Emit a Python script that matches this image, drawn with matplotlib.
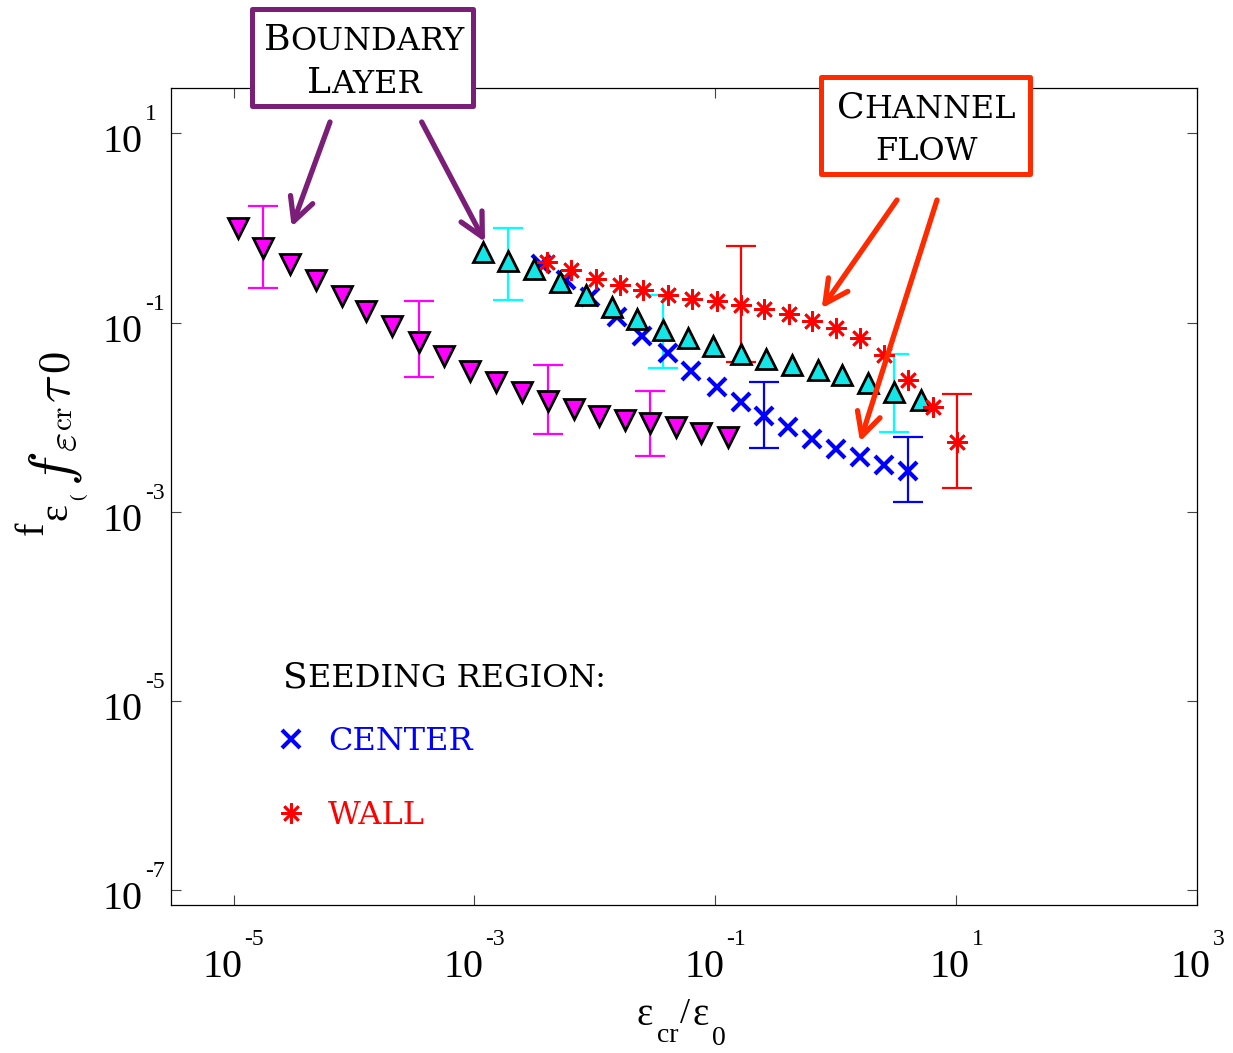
import matplotlib
matplotlib.use("Agg")
import matplotlib.pyplot as plt
from matplotlib.patches import Rectangle, FancyArrowPatch, ArrowStyle
from matplotlib.text import Annotation
from matplotlib import transforms as mtrans

# ---------------- data ----------------
# Boundary layer (magenta, downward triangles)
bl_down_x = [1.08e-5, 1.77e-5, 2.92e-5, 4.80e-5, 7.89e-5, 1.27e-4, 2.09e-4, 3.44e-4,
             5.65e-4, 9.12e-4, 1.50e-3, 2.47e-3, 4.06e-3, 6.67e-3, 1.08e-2, 1.77e-2,
             2.90e-2, 4.78e-2, 7.71e-2, 1.27e-1]
bl_down_y = [1.0, 0.619, 0.420, 0.284, 0.192, 0.133, 0.0925, 0.0627, 0.0445, 0.0308,
             0.0236, 0.0185, 0.0149, 0.0122, 0.0103, 0.00933, 0.00869, 0.00787,
             0.00681, 0.00617]
bl_down_err_idx = [1, 7, 12, 16]
bl_down_err_lo = [0.234, 0.0267, 0.00664, 0.00385]
bl_down_err_hi = [1.69, 0.167, 0.0352, 0.0188]

# Boundary layer (cyan, upward triangles)
bl_up_x = [1.17e-3, 1.92e-3, 3.16e-3, 5.11e-3, 8.39e-3, 1.38e-2, 2.26e-2, 3.72e-2,
           6.01e-2, 9.70e-2, 0.163, 0.267, 0.440, 0.710, 1.14, 1.88, 3.09, 5.18]
bl_up_y = [0.558, 0.444, 0.372, 0.269, 0.194, 0.146, 0.110, 0.0839, 0.0685, 0.0571,
           0.0467, 0.0414, 0.0357, 0.0311, 0.0280, 0.0229, 0.0184, 0.0150]
bl_up_err_idx = [1, 7, 16]
bl_up_err_lo = [0.175, 0.0330, 0.00702]
bl_up_err_hi = [1.00, 0.194, 0.0459]

# Channel flow, seeded at center (blue x)
center_x = [3.61e-3, 5.83e-3, 9.23e-3, 1.52e-2, 2.49e-2, 4.03e-2, 6.37e-2, 0.103,
            0.163, 0.257, 0.407, 0.644, 1.02, 1.61, 2.55, 4.04]
center_y = [0.420, 0.284, 0.187, 0.115, 0.0724, 0.0479, 0.0308, 0.0209, 0.0145,
            0.0103, 0.00787, 0.00587, 0.00460, 0.00378, 0.00312, 0.00269]
center_err_idx = [9, 15]
center_err_lo = [0.00469, 0.00126]
center_err_hi = [0.0234, 0.00612]

# Channel flow, seeded at wall (red asterisks)
wall_x = [3.98e-3, 6.30e-3, 1.02e-2, 1.61e-2, 2.54e-2, 4.10e-2, 6.49e-2, 0.103, 0.163,
          0.257, 0.415, 0.644, 1.02, 1.61, 2.55, 4.04, 6.52, 10.3]
wall_y = [0.438, 0.356, 0.291, 0.247, 0.219, 0.197, 0.179, 0.167, 0.155, 0.140, 0.124,
          0.105, 0.0875, 0.0685, 0.0456, 0.0248, 0.0127, 0.00551]
wall_err_idx = [8, 17]
wall_err_lo = [0.0382, 0.00177]
wall_err_hi = [0.640, 0.0176]

xtick_vals = [1e-5, 1e-3, 1e-1, 1e1, 1e3]
xtick_exp = ["-5", "-3", "-1", "1", "3"]
ytick_vals = [1e1, 1e-1, 1e-3, 1e-5, 1e-7]
ytick_exp = ["1", "-1", "-3", "-5", "-7"]
legend_labels = ["CENTER", "WALL"]

# ---------------- styling ----------------
MAGENTA = "#ff00ff"
CYAN = "#00ffff"
CYAN_FILL = "#12e6e6"
BLUE = "#0000ff"
RED = "#ff0000"
PURPLE = "#7a1e78"
ORANGE_RED = "#ff2a00"
SERIF = "Liberation Serif"
SC = "DejaVu Serif"

W, H = 1233, 1053
fig = plt.figure(figsize=(W / 100, H / 100), dpi=100)
ax = fig.add_axes([171 / W, 1 - 905 / H, (1196.5 - 171) / W, (905 - 88) / H])


def fx(px):
    return px / W


def fy(py):
    return 1 - py / H


ax.set_xscale("log")
ax.set_yscale("log")
ax.set_xlim(10 ** -5.52, 1e3)
ax.set_ylim(10 ** -7.16, 10 ** 1.48)
ax.set_xticks(xtick_vals)
ax.set_yticks(ytick_vals)
ax.minorticks_off()
ax.tick_params(which="both", direction="in", top=True, right=True, length=7,
               width=0.8, color="#444444", labelbottom=False, labelleft=False)
for sp in ax.spines.values():
    sp.set_linewidth(0.9)


def errbars(xs, ys, idx, lo, hi, color, z):
    ex = [xs[i] for i in idx]
    ey = [ys[i] for i in idx]
    lower = [ey[k] - lo[k] for k in range(len(idx))]
    upper = [hi[k] - ey[k] for k in range(len(idx))]
    ax.errorbar(ex, ey, yerr=[lower, upper], fmt="none", ecolor=color,
                elinewidth=1.6, capsize=10.8, capthick=1.6, zorder=z)


errbars(bl_down_x, bl_down_y, bl_down_err_idx, bl_down_err_lo, bl_down_err_hi, MAGENTA, 2)
ax.plot(bl_down_x, bl_down_y, linestyle="none", marker="v", ms=14, mfc=MAGENTA,
        mec="black", mew=2, zorder=2.5)
errbars(bl_up_x, bl_up_y, bl_up_err_idx, bl_up_err_lo, bl_up_err_hi, CYAN, 2.6)
errbars(center_x, center_y, center_err_idx, center_err_lo, center_err_hi, BLUE, 2.8)
h_center, = ax.plot(center_x, center_y, linestyle="none", marker="x", ms=12.5,
                    mec=BLUE, mew=3, zorder=3)
errbars(wall_x, wall_y, wall_err_idx, wall_err_lo, wall_err_hi, RED, 3.2)
ax.plot(bl_up_x, bl_up_y, linestyle="none", marker="^", ms=14, mfc=CYAN_FILL,
        mec="black", mew=2, zorder=4)
h_wall, = ax.plot(wall_x, wall_y, linestyle="none", marker=(8, 2, 0), ms=14.5,
                  mec=RED, mfc=RED, mew=1.9, zorder=5)

# ---------------- tick labels (MATLAB-like 10^n) ----------------
tx = mtrans.blended_transform_factory(ax.transData, fig.transFigure)
for v, e in zip(xtick_vals, xtick_exp):
    w = 20 if e.startswith("-") else 10
    left = -(42 + w) / 2
    fig.text(v, fy(977), "10", family=SERIF, size=29, ha="left", va="baseline",
             transform=mtrans.offset_copy(tx, fig=fig, x=left, y=0, units="dots"))
    fig.text(v, fy(945), e, family=SERIF, size=17, ha="left", va="baseline",
             transform=mtrans.offset_copy(tx, fig=fig, x=left + 42, y=0, units="dots"))

ty = mtrans.blended_transform_factory(fig.transFigure, ax.transData)
for v, e in zip(ytick_vals, ytick_exp):
    fig.text(fx(143), v, "10", family=SERIF, size=29, ha="right", va="baseline",
             transform=mtrans.offset_copy(ty, fig=fig, x=0, y=-19, units="dots"))
    fig.text(fx(145), v, e, family=SERIF, size=17, ha="left", va="baseline",
             transform=mtrans.offset_copy(ty, fig=fig, x=0, y=13, units="dots"))

# ---------------- axis labels ----------------
for s, xl, yb, sz in [("ε", 637, 1025, 28), ("cr", 657, 1042, 20), ("/", 680, 1023, 26),
                      ("ε", 692, 1025, 28), ("0", 712, 1045, 20)]:
    fig.text(fx(xl), fy(yb), s, family=SERIF, size=sz, ha="left", va="baseline")

# y label: plain "f_ε(" overlaid by the math label
for s, xb, ys, sz in [("f", 43, 535, 29), ("ε", 67, 520, 29), ("(", 83, 500, 14)]:
    fig.text(fx(xb), fy(ys), s, family=SERIF, size=sz, rotation=90,
             rotation_mode="anchor", ha="left", va="baseline")
for s, xb, ys, sz in [(r"$f$", 71, 486, 42), (r"$\varepsilon$", 77, 452, 30),
                      (r"$\mathrm{cr}$", 72, 431, 21), (r"$\tau$", 70, 403, 37),
                      (r"$\mathrm{0}$", 70, 374, 32)]:
    fig.text(fx(xb), fy(ys), s, size=sz, math_fontfamily="cm", rotation=90,
             rotation_mode="anchor", ha="left", va="baseline")


# ---------------- small-caps text helper ----------------
def small_caps(x_px, y_px, parts, color="black"):
    s0, z0 = parts[0]
    prev = fig.text(fx(x_px), fy(y_px), s0, family=SC, size=z0, color=color,
                    ha="left", va="baseline", zorder=6)
    for s, z in parts[1:]:
        ann = Annotation(s, xy=(1, 0), xycoords=prev, ha="left", va="bottom",
                         family=SC, size=z, color=color, zorder=6,
                         annotation_clip=False)
        fig.add_artist(ann)
        prev = ann
    return prev


# annotation boxes
fig.add_artist(Rectangle((fx(252.4), fy(105.8)), (473.3 - 252.4) / W, (105.8 - 9.2) / H,
                         transform=fig.transFigure, fc="white", ec=PURPLE, lw=3.6,
                         joinstyle="round", zorder=2))
fig.add_artist(Rectangle((fx(820.9), fy(174.2)), (1030.3 - 820.9) / W, (174.2 - 77.5) / H,
                         transform=fig.transFigure, fc="white", ec=ORANGE_RED, lw=3.6,
                         joinstyle="round", zorder=2))
small_caps(264, 50, [("B", 26), ("OUNDARY", 23)])
small_caps(307, 93, [("L", 26), ("AYER", 23)])
small_caps(837, 118, [("C", 26), ("HANNEL", 23)])
small_caps(875, 160, [("FLOW", 23)])

head = ArrowStyle("->", head_length=16.6, head_width=8.5)
for (x0, y0, x1, y1, col) in [(330, 122, 291.7, 226.7, PURPLE),
                              (421.7, 122, 485, 242, PURPLE),
                              (897, 200, 821.7, 308.3, ORANGE_RED),
                              (937, 200, 860, 441.7, ORANGE_RED)]:
    fig.add_artist(FancyArrowPatch((fx(x0), fy(y0)), (fx(x1), fy(y1)),
                                   transform=fig.transFigure, arrowstyle=head,
                                   mutation_scale=1, lw=3.8, color=col,
                                   shrinkA=0, shrinkB=0, zorder=7))

# ---------------- legend ----------------
small_caps(283, 687, [("S", 26), ("EEDING REGION:", 23)])
ax.legend([h_center, h_wall], legend_labels, loc="upper left",
          bbox_to_anchor=(fx(275), fy(726)), bbox_transform=fig.transFigure,
          frameon=False, borderpad=0, borderaxespad=0, handlelength=1.0,
          handletextpad=0.66, labelspacing=1.34, numpoints=1,
          prop={"family": SC, "size": 23}, labelcolor=[BLUE, RED])

fig.savefig("out.png", dpi=100)
